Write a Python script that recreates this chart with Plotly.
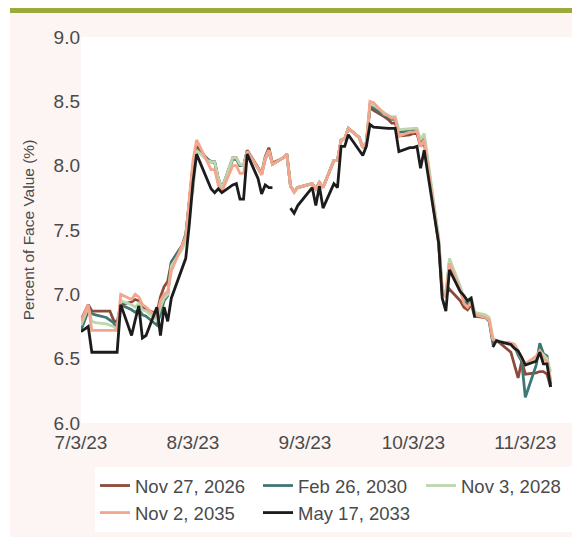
import plotly.graph_objects as go

# trading days shown (bond market holidays 7/4, 9/4, 10/9 left out)
JUL = [3, 5, 6, 7, 10, 11, 12, 13, 14, 17, 18, 19, 20, 21, 24, 25, 26, 27, 28, 31]
AUG = [1, 2, 3, 4, 7, 8, 9, 10, 11, 14, 15, 16, 17, 18, 21, 22, 23, 24, 25, 28, 29, 30, 31]
SEP = [1, 5, 6, 7, 8, 11, 12, 13, 14, 15, 18, 19, 20, 21, 22, 25, 26, 27, 28, 29]
OCT = [2, 3, 4, 5, 6, 10, 11, 12, 13, 16, 17, 18, 19, 20, 23, 24, 25, 26, 27, 30, 31]
NOV = [1, 2, 3, 6, 7, 8, 9, 10]

dates = (
    [f"2023-07-{d:02d}" for d in JUL]
    + [f"2023-08-{d:02d}" for d in AUG]
    + [f"2023-09-{d:02d}" for d in SEP]
    + [f"2023-10-{d:02d}" for d in OCT]
    + [f"2023-11-{d:02d}" for d in NOV]
)

nov_2026 = [
    6.80, 6.92, 6.87, 6.87, 6.87, 6.87, 6.80, 6.78, 6.92, 6.94, 6.96, 6.95, 6.90, 6.88, 6.85, 6.98, 7.06, 7.10, 7.25, 7.38,
    7.45, 7.72, 8.00, 8.15, 8.05, 8.03, 8.03, 7.90, 7.82, 8.06, 8.06, 8.00, 8.00, 8.12, 7.98, 7.94, 8.07, 8.14, 8.02, 8.06, 8.09, 7.84, 7.80,
    7.83, 7.86, 7.82, 7.87, 7.83, 8.04, 8.04, 8.20, 8.21, 8.29, 8.22, 8.14, 8.18, 8.45, 8.43, 8.38, 8.36, 8.33, 8.33, 8.23,
    8.24, 8.25, 8.25, 8.15, 8.18, 7.40, 7.00, 7.00, 7.04, 6.95, 6.90, 6.88, 6.92, 6.83, 6.82, 6.80, 6.64, 6.64, 6.62, 6.55, 6.45,
    6.35, 6.48, 6.38, 6.39, 6.40, 6.40, 6.38, 6.28,
]
feb_2030 = [
    6.72, 6.87, 6.85, 6.84, 6.82, 6.80, 6.78, 6.72, 6.92, 6.88, 6.86, 6.88, 6.84, 6.83, 6.76, 6.85, 6.95, 6.99, 7.25, 7.38,
    7.47, 7.72, 8.00, 8.12, 8.05, 8.03, 8.03, 7.90, 7.82, 8.05, 8.05, 8.00, 8.00, 8.11, 7.98, 7.93, 8.05, 8.11, 8.01, 8.06, 8.08, 7.84, 7.80,
    7.83, 7.86, 7.82, 7.87, 7.83, 8.04, 8.04, 8.20, 8.21, 8.29, 8.22, 8.14, 8.18, 8.47, 8.45, 8.39, 8.38, 8.36, 8.36, 8.26,
    8.27, 8.28, 8.28, 8.18, 8.22, 7.42, 7.03, 6.98, 7.26, 7.05, 6.95, 6.92, 6.96, 6.84, 6.82, 6.79, 6.62, 6.64, 6.63, 6.62, 6.60,
    6.53, 6.48, 6.20, 6.45, 6.62, 6.54, 6.52, 6.30,
]
nov_2028 = [
    6.76, 6.90, 6.79, 6.78, 6.77, 6.76, 6.75, 6.73, 6.95, 6.92, 6.90, 6.93, 6.88, 6.87, 6.80, 6.90, 6.97, 7.00, 7.22, 7.35,
    7.42, 7.70, 7.80, 8.12, 8.04, 8.03, 8.03, 7.90, 7.82, 8.06, 8.06, 8.01, 8.00, 8.11, 7.98, 7.93, 8.06, 8.12, 8.01, 8.06, 8.08, 7.84, 7.80,
    7.83, 7.86, 7.82, 7.87, 7.83, 8.04, 8.04, 8.20, 8.21, 8.29, 8.22, 8.14, 8.18, 8.48, 8.47, 8.41, 8.39, 8.38, 8.38, 8.28,
    8.29, 8.29, 8.29, 8.20, 8.25, 7.45, 7.05, 7.00, 7.28, 7.06, 6.97, 6.95, 6.98, 6.86, 6.84, 6.82, 6.66, 6.64, 6.63, 6.62, 6.61,
    6.56, 6.50, 6.45, 6.50, 6.56, 6.53, 6.50, 6.40,
]
nov_2035 = [
    6.79, 6.92, 6.72, 6.72, 6.72, 6.72, 6.72, 6.72, 7.00, 6.96, 7.00, 6.98, 6.92, 6.90, 6.82, 6.95, 7.00, 7.02, 7.18, 7.38,
    7.45, 7.75, 8.04, 8.20, 8.03, 7.97, 7.97, 7.85, 7.80, 8.00, 8.00, 7.94, 7.94, 8.11, 7.98, 7.93, 8.05, 8.12, 8.01, 8.06, 8.09, 7.84, 7.79,
    7.83, 7.86, 7.82, 7.87, 7.83, 8.04, 8.04, 8.20, 8.21, 8.29, 8.22, 8.14, 8.18, 8.50, 8.49, 8.40, 8.39, 8.37, 8.37, 8.23,
    8.26, 8.26, 8.27, 8.15, 8.20, 7.40, 7.02, 6.98, 7.24, 7.03, 6.93, 6.90, 6.94, 6.84, 6.82, 6.80, 6.65, 6.64, 6.63, 6.62, 6.61,
    6.56, 6.50, 6.46, 6.52, 6.56, 6.50, 6.48, 6.34,
]
may_2033 = [
    6.71, 6.75, 6.55, 6.55, 6.55, 6.55, 6.55, 6.55, 6.92, 6.68, 6.80, 6.91, 6.66, 6.68, 6.90, 6.68, 6.90, 6.79, 6.97, 7.20,
    7.28, 7.55, 7.87, 8.09, 7.88, 7.82, 7.79, 7.82, 7.79, 7.85, 7.86, 7.74, 7.74, 8.09, 7.90, 7.78, 7.85, 7.83, 7.83, None, None, 7.67, 7.63,
    7.69, 7.83, 7.69, 7.84, 7.67, 7.86, 7.83, 8.15, 8.15, 8.24, 8.12, 8.08, 8.15, 8.32, 8.30, 8.29, 8.29, 8.29, 8.29, 8.11,
    8.14, 8.14, 8.15, 7.98, 8.12, 7.40, 6.97, 6.87, 7.19, 7.02, 6.99, 6.95, 6.97, 6.82, None, None, 6.59, 6.64, 6.63, 6.61, 6.58,
    6.56, 6.51, 6.45, 6.48, 6.55, 6.46, 6.46, 6.28,
]

tick_vals = ["2023-07-03", "2023-08-03", "2023-09-03", "2023-10-03", "2023-11-03"]
tick_text = ["7/3/23", "8/3/23", "9/3/23", "10/3/23", "11/3/23"]

SERIES = [
    ("Nov 27, 2026", nov_2026, "#8c4a3b"),
    ("Feb 26, 2030", feb_2030, "#3f7775"),
    ("Nov 3, 2028", nov_2028, "#bcd7ad"),
    ("Nov 2, 2035", nov_2035, "#f4a58d"),
    ("May 17, 2033", may_2033, "#1c1c1c"),
]

# the page body keeps its 8px margin, so the figure is drawn 8px in
W, H = 572, 529
L, R, T, B = 73, 5, 29, 114
PW, PH = W - L - R, H - T - B


def px_x(px):
    return (px - L) / PW


def px_y(py):
    return (H - B - py) / PH


FONT = "Liberation Sans, Arial, sans-serif"
TXT = "#4a4a4a"

fig = go.Figure()
for name, vals, color in SERIES:
    fig.add_trace(
        go.Scatter(
            x=dates, y=vals, name=name, mode="lines",
            line=dict(color=color, width=2.8), connectgaps=False,
        )
    )

fig.update_layout(
    width=W,
    height=H,
    margin=dict(l=L, r=R, t=T, b=B),
    paper_bgcolor="#fdf5f3",
    plot_bgcolor="white",
    font=dict(family=FONT, color=TXT, size=19),
    showlegend=True,
    legend=dict(
        orientation="h",
        xref="container", yref="container",
        x=87 / W, y=1 - 459 / H,
        xanchor="left", yanchor="top",
        bgcolor="white",
        font=dict(size=18.5, color=TXT),
        entrywidth=118, entrywidthmode="pixels",
        itemwidth=30,
    ),
    xaxis=dict(
        type="date", automargin=False,
        range=["2023-07-03", "2023-11-16 18:00"],
        tickvals=tick_vals, ticktext=tick_text,
        showgrid=False, zeroline=False, showline=False, ticks="",
        ticklabelstandoff=6,
    ),
    yaxis=dict(
        range=[6, 9], dtick=0.5, tickformat=".1f", automargin=False,
        showgrid=False, zeroline=False, showline=False, ticks="",
        title=dict(text="Percent of Face Value (%)", font=dict(size=15.5)),
    ),
    shapes=[
        dict(type="rect", xref="paper", yref="paper", layer="below",
             x0=px_x(0), x1=px_x(2), y0=px_y(H), y1=px_y(0),
             fillcolor="white", line=dict(width=0)),
        dict(type="rect", xref="paper", yref="paper", layer="below",
             x0=px_x(2), x1=px_x(W), y0=px_y(5), y1=px_y(0),
             fillcolor="#9caa3c", line=dict(width=0)),
    ],
)

fig.write_html("out.html")
